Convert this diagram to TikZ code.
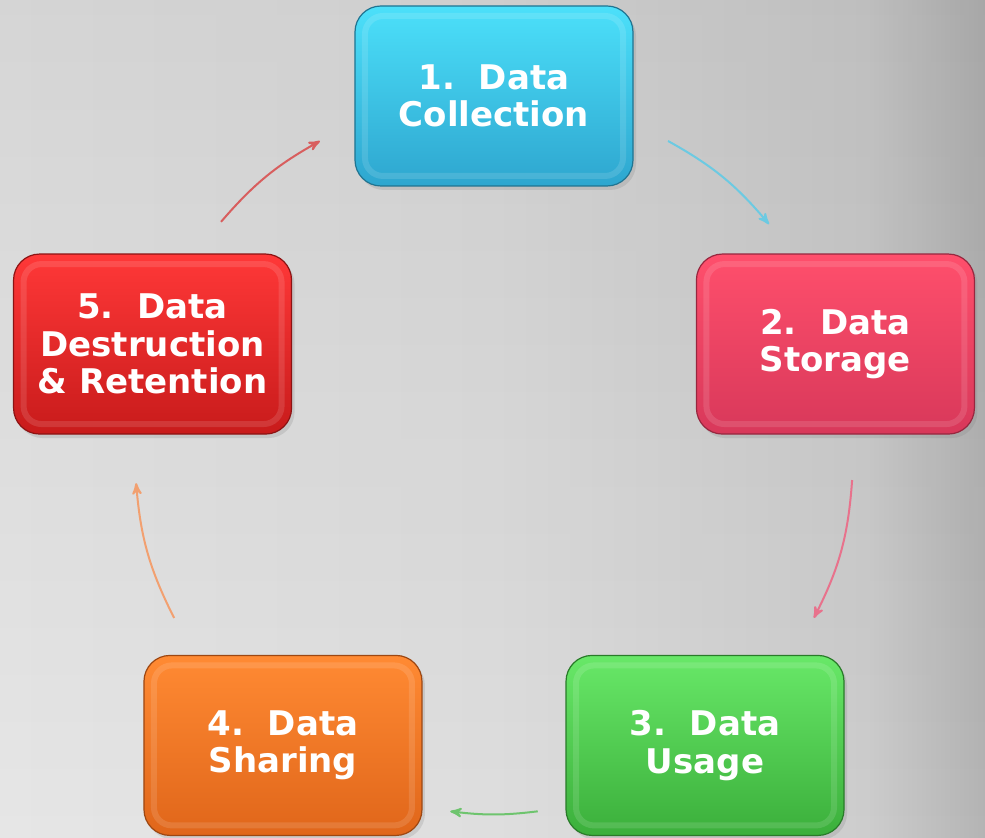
\documentclass[tikz,border=0pt]{standalone}
\usepackage{fontspec}
\setmainfont{DejaVu Sans}
\usetikzlibrary{arrows,shadows,fadings}

% page background
\definecolor{bga}{HTML}{E6E6E6}
\definecolor{bgb}{HTML}{DEDEDE}
\definecolor{bgc}{HTML}{CDCDCD}
\definecolor{bgd}{HTML}{B4B4B4}
\pgfdeclarehorizontalshading{backdrop}{100bp}{color(0bp)=(bga); color(25bp)=(bga);
  color(50bp)=(bgb); color(69bp)=(bgc); color(75bp)=(bgd); color(100bp)=(bgd)}
\tikzfading[name=fade down, top color=transparent!93, bottom color=transparent!100]
% box colours (top / bottom)
\definecolor{collecttop}{HTML}{4CE0FA}
\definecolor{collectbot}{HTML}{2EA6CF}
\definecolor{storetop}{HTML}{FF4F6C}
\definecolor{storebot}{HTML}{D8385A}
\definecolor{usagetop}{HTML}{68E868}
\definecolor{usagebot}{HTML}{3BAF3B}
\definecolor{sharetop}{HTML}{FF8A33}
\definecolor{sharebot}{HTML}{E0661A}
\definecolor{destroytop}{HTML}{FF3838}
\definecolor{destroybot}{HTML}{C81B1B}
% arrow colours
\definecolor{flowcyan}{HTML}{6CCAE2}
\definecolor{flowpink}{HTML}{E8728C}
\definecolor{flowgreen}{HTML}{6EC46E}
\definecolor{floworange}{HTML}{F2A070}
\definecolor{flowred}{HTML}{D85E5E}

\begin{document}
\begin{tikzpicture}
[>=stealth',
  stage/.style 2 args={rectangle,rounded corners=13pt,minimum width=139pt,minimum height=90pt,
    top color=#1,bottom color=#2,draw=#2!70!black,line width=.6pt,
    drop shadow={shadow xshift=1.5pt,shadow yshift=-2pt,opacity=.22},
    text=white,align=center,font=\bfseries\fontsize{17}{18.8}\selectfont,
    path picture={\draw[white,opacity=.12,line width=3pt,rounded corners=9pt]
      ([shift={(5pt,-5pt)}]path picture bounding box.north west) rectangle
      ([shift={(-5pt,5pt)}]path picture bounding box.south east);}},
  flow/.style={->,line width=1pt,draw=#1}]

  \useasboundingbox (-247pt,-191.5pt) rectangle (245.5pt,227.5pt);
  \shade[shading=backdrop] (-247pt,-191.5pt) rectangle (245.5pt,227.5pt);
  \fill[black,path fading=fade down] (-247pt,-191.5pt) rectangle (245.5pt,227.5pt);

  \node [stage={collecttop}{collectbot}] (collect) at (90:179.5pt)  {1.\ \ Data\\Collection};
  \node [stage={storetop}{storebot}]     (store)   at (18:179.5pt)  {2.\ \ Data\\Storage};
  \node [stage={usagetop}{usagebot}]     (usage)   at (-54:179.5pt) {3.\ \ Data\\Usage};
  \node [stage={sharetop}{sharebot}]     (share)   at (-126:179.5pt) {4.\ \ Data\\Sharing};
  \node [stage={destroytop}{destroybot}] (destroy) at (162:179.5pt) {5.\ \ Data\\Destruction\\\& Retention};

  % arrow ends on the same circle as the boxes
  \foreach \name/\ang in {a1/61,b1/40,a2/-4,b2/-27,a3/-83,b3/-97,a4/207,b4/184.5,a5/139.5,b5/119}
    \coordinate (\name) at (\ang:179.5pt);

  \foreach \i/\col/\bend in {1/flowcyan/10.5,2/flowpink/11.5,3/flowgreen/7,4/floworange/11,5/flowred/10}
    \draw [flow=\col] (a\i) to[bend left=\bend] (b\i);

\end{tikzpicture}
\end{document}
